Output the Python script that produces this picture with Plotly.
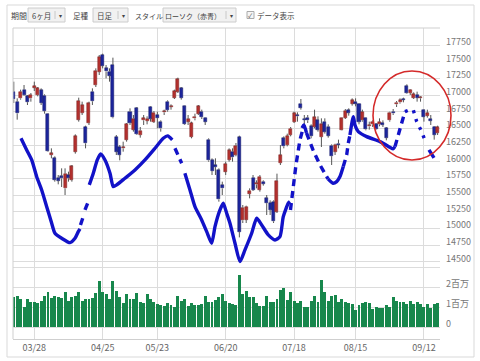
import plotly.graph_objects as go
import pandas as pd

# ---------------- data ----------------
holidays = ["2016-03-21", "2016-04-29", "2016-05-03", "2016-05-04", "2016-05-05", "2016-07-18", "2016-08-11"]
dates = [d.strftime("%Y-%m-%d") for d in pd.bdate_range("2016-03-17", "2016-09-16")
         if d.strftime("%Y-%m-%d") not in holidays]

tick_dates = ["2016-03-28", "2016-04-25", "2016-05-23", "2016-06-20", "2016-07-19", "2016-08-15", "2016-09-12"]
tick_text = ["03/28", "04/25", "05/23", "06/20", "07/18", "08/15", "09/12"]

opens = [17050, 16900, 16950, 17080, 16980, 16950, 17110, 17000, 17070, 16990,
         16720, 16100, 16050, 15760, 15780, 15600, 15800, 15730, 16150, 16630,
         16730, 16520, 16580, 17050, 17150, 17350, 17600, 17400, 17350, 17450,
         16370, 16220, 16200, 16330, 16750, 16480, 16800, 16400, 16620, 16610,
         16820, 16600, 16700, 16600, 16740, 16900, 16820, 16960, 17050, 17100,
         16830, 16600, 16370, 16650, 16720, 16750, 16650, 16330, 16020, 15950,
         15870, 15650, 15850, 16030, 16150, 16100, 16366, 15120, 15130, 15520,
         15760, 15660, 15580, 15700, 15450, 15380, 15400, 15250, 15980, 16350,
         16250, 16400, 16600, 16700, 16870, 16640, 16660, 16530, 16520, 16620,
         16370, 16600, 16525, 16240, 16150, 16270, 16480, 16660, 16770, 16870,
         16900, 16870, 16620, 16650, 16530, 16560, 16560, 16560, 16580, 16500,
         16620, 16750, 16860, 16890, 16940, 17130, 17030, 16960, 17000, 16950,
         16780, 16690, 16640, 16520, 16430]
highs = [17200, 16950, 17080, 17150, 17000, 17030, 17200, 17120, 17100, 17010,
         16730, 16200, 16080, 15800, 15900, 15900, 15850, 15950, 16410, 16960,
         16900, 16540, 16900, 17100, 17400, 17600, 17620, 17450, 17400, 17560,
         16400, 16250, 16300, 16580, 16800, 16700, 16820, 16520, 16700, 16680,
         16830, 16760, 16750, 16620, 16780, 16920, 16860, 17080, 17260, 17120,
         16840, 16700, 16600, 16720, 16850, 16780, 16660, 16350, 16050, 16050,
         15900, 15700, 16000, 16200, 16200, 16280, 16390, 15350, 15340, 15600,
         15800, 15720, 15800, 15720, 15500, 15420, 15420, 15820, 16250, 16380,
         16420, 16520, 16750, 16740, 16940, 16700, 16700, 16560, 16780, 16680,
         16650, 16650, 16560, 16260, 16270, 16330, 16660, 16790, 16800, 16950,
         16950, 16880, 16780, 16660, 16600, 16620, 16580, 16650, 16620, 16520,
         16750, 16790, 16910, 16950, 16960, 17160, 17090, 17040, 17050, 16980,
         16790, 16780, 16700, 16530, 16540]
lows = [16880, 16630, 16930, 16990, 16850, 16900, 17060, 16980, 16850, 16720,
        16150, 16050, 15700, 15660, 15620, 15500, 15700, 15700, 16120, 16600,
        16700, 16200, 16550, 16850, 17120, 17300, 17400, 17250, 17200, 16650,
        16100, 16020, 16150, 16300, 16550, 16450, 16400, 16360, 16550, 16560,
        16600, 16580, 16500, 16450, 16700, 16750, 16780, 16940, 17030, 16930,
        16550, 16550, 16350, 16620, 16700, 16640, 16550, 16000, 15800, 15800,
        15400, 15500, 15800, 16000, 16000, 16080, 14864, 15080, 15080, 15450,
        15560, 15600, 15550, 15640, 15200, 15200, 15080, 15230, 15950, 16200,
        16230, 16380, 16580, 16600, 16780, 16550, 16580, 16350, 16500, 16450,
        16220, 16420, 16360, 15950, 16100, 16200, 16470, 16640, 16690, 16840,
        16830, 16560, 16600, 16470, 16480, 16520, 16480, 16530, 16520, 16320,
        16600, 16700, 16820, 16870, 16890, 17020, 17000, 16940, 16900, 16900,
        16600, 16660, 16550, 16330, 16400]
closes = [16936, 16724, 17048, 17000, 16892, 17002, 17134, 17103, 16878, 16758,
          16164, 16123, 15732, 15715, 15749, 15821, 15751, 15928, 16381, 16911,
          16848, 16275, 16874, 16906, 17363, 17572, 17439, 17353, 17290, 16666,
          16147, 16106, 16216, 16565, 16579, 16646, 16412, 16466, 16652, 16644,
          16646, 16736, 16654, 16498, 16757, 16772, 16834, 17060, 17234, 16955,
          16562, 16642, 16580, 16675, 16830, 16668, 16601, 16019, 15859, 15919,
          15434, 15599, 15965, 16169, 16065, 16238, 14952, 15309, 15323, 15566,
          15575, 15682, 15775, 15669, 15378, 15276, 15106, 15708, 16095, 16231,
          16385, 16497, 16723, 16681, 16810, 16627, 16620, 16383, 16664, 16476,
          16569, 16450, 16391, 16083, 16254, 16254, 16650, 16764, 16735, 16919,
          16869, 16596, 16745, 16486, 16545, 16598, 16497, 16597, 16555, 16360,
          16737, 16725, 16887, 16926, 16925, 17037, 17081, 17012, 16958, 16965,
          16672, 16729, 16614, 16405, 16519]
volume_m = [1.52, 1.55, 1.38, 1.02, 1.40, 1.27, 1.23, 1.18, 1.30, 1.57,
            1.77, 1.43, 1.57, 1.52, 1.43, 1.73, 1.32, 1.48, 1.57, 1.73,
            1.32, 1.38, 1.42, 1.43, 1.68, 2.30, 1.73, 1.63, 1.40, 2.32,
            1.82, 1.52, 1.18, 1.65, 1.40, 1.38, 1.72, 1.23, 1.18, 1.65,
            1.40, 1.27, 1.15, 1.10, 1.05, 1.18, 1.10, 0.98, 1.57, 1.32,
            1.40, 1.07, 1.18, 1.08, 1.10, 1.13, 1.55, 1.27, 1.27, 1.35,
            1.48, 1.63, 1.32, 1.22, 1.13, 1.10, 2.60, 1.63, 1.80, 1.48,
            1.48, 1.22, 1.07, 1.07, 1.57, 1.27, 1.27, 1.38, 1.85, 1.97,
            1.35, 1.73, 1.30, 1.18, 1.30, 0.98, 1.02, 1.30, 1.55, 1.27,
            2.35, 1.73, 1.32, 1.55, 1.60, 1.27, 1.40, 1.23, 1.18, 1.13,
            0.85, 1.10, 1.18, 1.27, 1.18, 0.90, 1.02, 0.93, 0.97, 1.10,
            1.02, 1.48, 1.30, 1.23, 1.27, 1.13, 1.30, 1.13, 1.23, 1.13,
            1.02, 1.13, 0.97, 1.13, 1.22]

# hand-drawn pen strokes (x = trading-day index, y = price)
pen_solid_idx = [2.11, 3.77, 5.24, 6.70, 8.16, 9.63, 11.09, 12.05, 14.01, 16.44, 17.91, 18.87, 19.37, None,
                 22.09, 23.26, 24.43, 25.42, 26.68, 28.15, 29.11, 30.11, 32.53, 35.46, 38.38, 41.31, 43.74, 45.03, 46.37, None,
                 50.06, 51.55, 53.01, 54.97, 56.44, 57.90, 58.87, 60.33, 61.29, 62.29, 63.25, 64.72, 66.18, 67.64,
                 69.60, 71.06, 72.53, 74.46, 76.42, 77.88, 78.85, 80.31, 80.81, None,
                 84.32, 84.90, 85.63, None,
                 91.93, 93.39, 94.47, 95.44, 96.40, None,
                 98.36, 99.33, 99.82, 100.79, 103.25, 107.14, 110.06, 110.94, 111.53, None,
                 121.48, 122.94]
pen_solid_price = [16351, 16176, 16026, 15775, 15576, 15325, 15076, 14926, 14851, 14785, 14851, 14950, 14991, None,
                   15651, 15826, 16026, 16116, 16026, 15826, 15625, 15651, 15751, 15876, 16026, 16201, 16351, 16386, 16326, None,
                   15826, 15576, 15325, 15126, 14950, 14776, 15025, 15276, 15376, 15226, 15076, 14776, 14500, 14676,
                   14926, 15151, 15051, 14901, 14826, 14876, 15176, 15376, 15400, None,
                   16506, 16551, 16431, None,
                   15741, 15676, 15701, 15776, 15926, None,
                   16401, 16676, 16551, 16451, 16376, 16301, 16216, 16191, 16226, None,
                   16176, 16056]
pen_dash_idx = [19.51, 20.33, None, 20.83, 21.80, None,
                47.16, 49.12, None,
                80.95, 82.56, 83.73, 84.90, None,
                85.63, 87.54, 89.59, 91.93, None,
                96.40, 97.40, 97.86, 98.36, None,
                111.53, 112.49, 113.49, 114.45]
pen_dash_price = [15051, 15175, None, 15276, 15400, None,
                  16201, 15976, None,
                  15276, 15951, 16326, 16551, None,
                  16431, 16176, 15951, 15741, None,
                  15926, 16101, 16276, 16401, None,
                  16226, 16401, 16576, 16751]
pen_dot_idx = [114.45, 115.62, 116.88, 117.88, 119.34, 120.60]
pen_dot_price = [16751, 16776, 16776, 16601, 16451, 16276]

# ---------------- geometry helpers (page pixels -> paper) ----------------
W, H = 480, 361
ML, MR, MT, MB = 13, 40, 28, 22
PW, PH = W - ML - MR, H - MT - MB


def px(x):
    return (x - ML) / PW


def py(y):
    return (H - MB - y) / PH


FONT = "Noto Sans CJK JP"
GRID = "#dcdcdc"
RED = "#b3302e"
RED_EDGE = "#7a1d1d"
BLUE = "#1c259c"
BLUE_EDGE = "#101660"
PEN = "#1212c8"

idx = list(range(len(dates)))
tickvals = [dates.index(d) for d in tick_dates]

# wicks (above and below body)
wx, wy = [], []
for i, o, h, l, c in zip(idx, opens, highs, lows, closes):
    top, bot = max(o, c), min(o, c)
    wx += [i, i, None, i, i, None]
    wy += [h, top, None, bot, l, None]

body_base = [min(o, c) for o, c in zip(opens, closes)]
body_h = [max(abs(c - o), 12) for o, c in zip(opens, closes)]
body_col = [RED if c >= o else BLUE for o, c in zip(opens, closes)]
body_edge = [RED_EDGE if c >= o else BLUE_EDGE for o, c in zip(opens, closes)]

fig = go.Figure()
fig.add_trace(go.Bar(x=idx, y=volume_m, yaxis="y2", width=0.86,
                     marker=dict(color="#17874c", line=dict(width=0)), hoverinfo="skip"))
fig.add_trace(go.Scatter(x=wx, y=wy, mode="lines", line=dict(color="#555555", width=1),
                         hoverinfo="skip"))
fig.add_trace(go.Bar(x=idx, y=body_h, base=body_base, width=0.88,
                     marker=dict(color=body_col, line=dict(width=0.5, color=body_edge)), hoverinfo="skip"))
fig.add_trace(go.Scatter(x=pen_solid_idx, y=pen_solid_price, mode="lines",
                         line=dict(color=PEN, width=3.4, shape="spline", smoothing=0.6), connectgaps=False))
fig.add_trace(go.Scatter(x=pen_dash_idx, y=pen_dash_price, mode="lines",
                         line=dict(color=PEN, width=3.4, dash="7px,5px"), connectgaps=False))
fig.add_trace(go.Scatter(x=pen_dot_idx, y=pen_dot_price, mode="lines",
                         line=dict(color=PEN, width=3.4, dash="3px,6px"), connectgaps=False))

shapes = [
    # outer panel
    dict(type="rect", xref="paper", yref="paper", x0=px(7), x1=px(474), y0=py(357), y1=py(5),
         line=dict(color="#d9d9d9", width=1), layer="below"),
    # plot frame top and left
    dict(type="line", xref="paper", yref="paper", x0=px(13), x1=px(440), y0=py(28), y1=py(28),
         line=dict(color="#cfcfcf", width=1)),
    dict(type="line", xref="paper", yref="paper", x0=px(13), x1=px(13), y0=py(28), y1=py(339),
         line=dict(color="#cfcfcf", width=1)),
    # red circle
    dict(type="circle", xref="paper", yref="paper", x0=px(373), x1=px(451), y0=py(160), y1=py(71),
         line=dict(color="#d42a2a", width=1.6)),
]
# toolbar dropdown boxes
for x0, x1, xdiv in [(28, 65, 55), (93, 128, 118), (163, 236, 226)]:
    shapes.append(dict(type="rect", xref="paper", yref="paper", x0=px(x0), x1=px(x1), y0=py(22), y1=py(8),
                       line=dict(color="#cccccc", width=1), fillcolor="#f1f1f1", layer="below"))
    shapes.append(dict(type="line", xref="paper", yref="paper", x0=px(xdiv), x1=px(xdiv), y0=py(19), y1=py(11),
                       line=dict(color="#c8c8c8", width=1)))
# checkbox
shapes.append(dict(type="rect", xref="paper", yref="paper", x0=px(247), x1=px(254), y0=py(18.5), y1=py(11.5),
                   line=dict(color="#aaaaaa", width=1), fillcolor="#f6f6f6"))

annotations = []
for text, x, size in [("期間", 19, 8), ("6ヶ月", 41, 7.5), ("▾", 60, 6), ("足種", 81, 7.5), ("日足", 105, 7.5),
                      ("▾", 123, 6), ("スタイル", 149, 7), ("ローソク（赤青）", 193, 7), ("▾", 231, 6),
                      ("✓", 250.5, 6), ("データ表示", 276, 7.5)]:
    annotations.append(dict(text=text, xref="paper", yref="paper", x=px(x), y=py(15.5), showarrow=False,
                            xanchor="center", yanchor="middle", font=dict(family=FONT, size=size, color="#444444")))

price_ticks = list(range(14500, 17751, 250))

fig.update_layout(
    width=W, height=H, margin=dict(l=ML, r=MR, t=MT, b=MB, autoexpand=False),
    paper_bgcolor="white", plot_bgcolor="white",
    showlegend=False, barmode="overlay", bargap=0,
    font=dict(family=FONT, size=9, color="#666666"),
    xaxis=dict(range=[-0.23, 124.7], tickvals=tickvals, ticktext=tick_text, showgrid=True,
               gridcolor=GRID, gridwidth=1, zeroline=False, showline=True, linecolor="#cfcfcf",
               ticks="", ticklabelstandoff=0, automargin=False,
               tickfont=dict(family=FONT, size=9, color="#666666")),
    yaxis=dict(range=[13340, 18005], side="right", tickvals=price_ticks, ticktext=[str(v) for v in price_ticks],
               showgrid=True, gridcolor=GRID, zeroline=False, ticks="", ticklabelshift=-3,
               ticklabelstandoff=5, automargin=False, tickfont=dict(family=FONT, size=9, color="#777777")),
    yaxis2=dict(range=[-0.6, 14.95], overlaying="y", side="right", tickvals=[0, 1, 2, 3],
                ticktext=["0", "1百万", "2百万", ""], showgrid=True, gridcolor=GRID, zeroline=False,
                ticks="", ticklabelshift=-3, ticklabelstandoff=5, automargin=False,
                tickfont=dict(family=FONT, size=9, color="#777777")),
    shapes=shapes, annotations=annotations,
)

fig.write_html("out.html")
